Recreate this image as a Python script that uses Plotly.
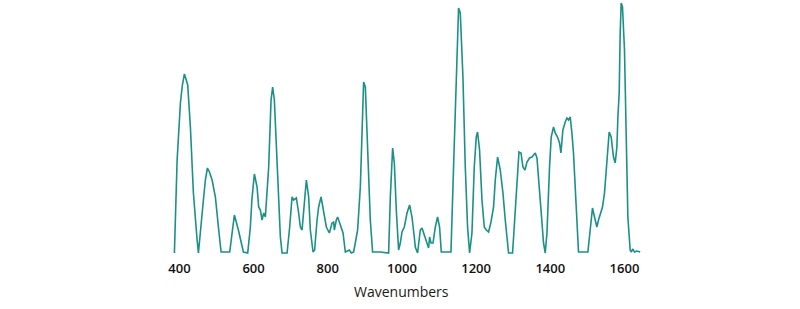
import plotly.graph_objects as go

wavenumbers = [386.5, 393.8, 402.7, 408.0, 413.5, 418.9, 422.4, 429.6, 437.7, 447.7, 451.2,
               464.7, 470.0, 475.5, 481.0, 488.1, 497.0, 505.1, 512.4, 524.0, 535.6,
               548.2, 559.0, 572.5, 584.1, 591.3, 595.4, 602.1, 609.4, 613.7, 618.3, 622.9,
               627.2, 631.8, 640.7, 647.1, 651.4, 656.0, 663.3, 672.2, 676.8, 690.3,
               697.3, 701.0, 703.7, 708.1, 715.3, 721.5, 726.1, 730.7, 736.9, 742.3,
               748.5, 753.0, 760.3, 764.6, 771.1, 775.4, 781.9, 788.9, 796.2, 804.3,
               811.5, 815.8, 817.7, 823.1, 826.6, 833.9, 841.2, 847.4, 858.2, 863.5,
               869.7, 874.3, 880.5, 887.8, 894.0, 896.7, 901.3, 907.5, 914.7, 920.9,
               941.7, 964.1, 968.7, 974.9, 979.5, 984.8, 991.0, 995.6, 1000.2, 1006.4,
               1013.7, 1020.7, 1027.1, 1033.3, 1036.0, 1042.2, 1049.5, 1054.1, 1060.3,
               1065.7, 1071.9, 1074.6, 1078.4, 1083.8, 1090.0, 1096.1, 1101.5, 1106.1,
               1132.2, 1139.2, 1146.5, 1152.7, 1157.3, 1164.5, 1170.8, 1177.0, 1182.4,
               1188.8, 1195.0, 1200.4, 1203.9, 1209.3, 1215.8, 1222.0, 1227.4, 1233.6,
               1240.1, 1247.1, 1251.7, 1257.9, 1265.1, 1272.4, 1278.6, 1284.8, 1287.5,
               1298.3, 1305.6, 1311.8, 1315.6, 1321.0, 1326.3, 1331.7, 1337.1, 1344.1,
               1350.6, 1359.5, 1364.1, 1372.9, 1381.8, 1386.4, 1391.0, 1398.0, 1402.5,
               1408.7, 1413.3, 1419.5, 1424.9, 1428.7, 1434.0, 1440.3, 1444.9, 1449.2,
               1453.8, 1458.3, 1462.6, 1467.2, 1471.8, 1476.1, 1501.4, 1507.6, 1513.8,
               1519.2, 1525.7, 1530.0, 1534.6, 1540.8, 1546.2, 1552.6, 1558.8, 1564.2,
               1570.4, 1575.0, 1579.6, 1582.3, 1585.8, 1588.5, 1591.2, 1594.7, 1600.1,
               1604.6, 1609.2, 1615.4, 1618.1, 1622.7, 1627.0, 1633.5, 1642.4]

intensity = [0, 93, 150, 168, 179, 171, 168, 126, 60, 13, 0,
             53, 73, 85, 81, 73, 56, 26, 1, 1, 1,
             38, 23, 1, 0, 26, 53, 79, 66, 46, 43, 33,
             40, 36, 86, 153, 166, 153, 83, 16, 0, 0,
             26, 40, 56, 53, 55, 40, 26, 23, 53, 73,
             56, 23, 1, 3, 33, 46, 56, 40, 26, 20,
             30, 31, 23, 33, 36, 28, 20, 1, 3, 0,
             1, 10, 23, 66, 143, 171, 166, 103, 33, 1,
             1, 0, 56, 105, 90, 43, 3, 10, 21, 26,
             40, 48, 36, 16, 6, 0, 23, 25, 18,
             11, 5, 16, 10, 10, 26, 36, 26, 1,
             1, 86, 186, 245, 240, 176, 86, 26, 0,
             20, 86, 116, 121, 103, 53, 26, 23, 21,
             31, 46, 73, 96, 83, 60, 33, 10, 0,
             0, 43, 86, 101, 100, 86, 83, 91, 95,
             96, 100, 95, 53, 10, 0, 20, 86, 116,
             126, 120, 116, 110, 100, 123, 131, 135, 133,
             136, 120, 100, 66, 36, 1, 1, 26, 45,
             36, 26, 33, 38, 46, 60, 93, 121, 116,
             96, 90, 106, 136, 160, 220, 250, 246, 203,
             120, 36, 3, 1, 4, 1, 2, 1]

tick_values = [400, 600, 800, 1000, 1200, 1400, 1600]
tick_labels = ["400", "600", "800", "1000", "1200", "1400", "1600"]
x_title = "Wavenumbers"

fig = go.Figure()
fig.add_trace(go.Scatter(
    x=wavenumbers, y=intensity, mode="lines",
    line=dict(color="#1b9087", width=1.6),
    hoverinfo="x+y", showlegend=False,
))

fig.add_annotation(
    text=x_title, xref="paper", yref="paper", x=0.488, y=-0.142,
    xanchor="center", yanchor="middle", showarrow=False,
    font=dict(family="Open Sans", size=14, color="#1a1a1a"),
)

fig.update_layout(
    width=800, height=309,
    margin=dict(l=172, r=157, t=1, b=54),
    paper_bgcolor="white", plot_bgcolor="white",
    font=dict(family="Open Sans", color="#1a1a1a"),
    xaxis=dict(
        range=[380, 1650], tickvals=tick_values, ticktext=tick_labels,
        showgrid=False, zeroline=False, showline=False, ticks="",
        tickfont=dict(size=13, color="#111111", weight=600),
        ticklabelstandoff=4,
    ),
    yaxis=dict(
        range=[-2, 252], visible=False, showgrid=False, zeroline=False,
    ),
)

fig.write_html("out.html")
